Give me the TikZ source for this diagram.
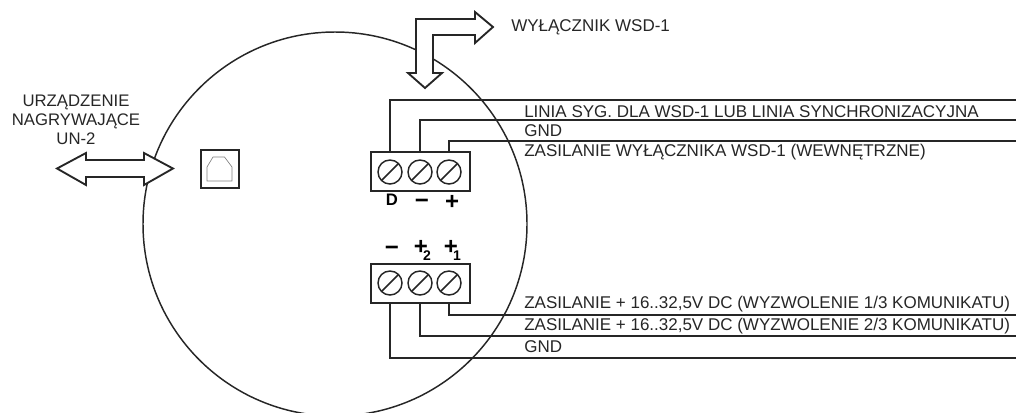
\documentclass[tikz,border=0pt]{standalone}
\usepackage{fontspec}
\setmainfont{Liberation Sans}
\usepackage{tikz}
\usetikzlibrary{calc,positioning}
\newcommand{\pinsub}[1]{\rlap{\kern-3.75pt\raisebox{-4.5pt}[0pt][0pt]{\fontsize{10.5}{12}\selectfont #1}}}

\begin{document}
\begin{tikzpicture}[
	  x=0.75pt,y=-0.75pt,
	  every node/.style={align=center,draw=none},
	  line/.style={line width=1.1pt,draw=black!85},
	  bigarrow/.style={line width=1.4pt,draw=black!85,fill=white,line join=miter},
	  block/.style={draw=black!85,line width=1.1pt,minimum width=74.25pt,minimum height=29.25pt,inner sep=0pt},
	  screw/.style={circle,draw=black!85,line width=1.1pt,minimum size=18pt,inner sep=0pt,
	    path picture={\draw[line width=1.1pt,draw=black!85] (path picture bounding box.south west) -- (path picture bounding box.north east);}},
	  wirelabel/.style={anchor=west,inner sep=0pt,text=black!85,font=\fontsize{12.75}{14}\selectfont},
	  caption/.style={inner sep=0pt,text=black!85,font=\fontsize{12.55}{14.4}\selectfont},
	  pin/.style={inner sep=0pt,font=\fontsize{12.5}{14}\selectfont\bfseries},
	  sign/.style={inner sep=0pt,font=\fontsize{18}{20}\selectfont\bfseries},
	  socket/.style={draw=black!85,line width=1.5pt,minimum size=28.5pt,inner sep=0pt}]

	  \useasboundingbox (0,0) rectangle (1016,412);

	  % Housing and the two wide arrows on top of it
	  \draw[line] (335,224) circle [radius=192];
	  \draw[bigarrow] (57,168.5) -- (86,153) -- (86,160) -- (144,160) -- (144,153) -- (173,168.5)
	    -- (144,185) -- (144,177) -- (86,177) -- (86,185) -- cycle;
	  \draw[bigarrow] (425,88) -- (408,73) -- (416,73) -- (416,19) -- (475,19) -- (475,12) -- (493,27)
	    -- (475,43) -- (475,35) -- (433,35) -- (433,73) -- (442,73) -- cycle;

	  % Socket
	  \node[socket] (sock) at (219.5,169) {};
	  \draw[draw=black!50,line width=0.5pt] ($(sock)+(-12.5,12)$) -- ($(sock)+(-12.5,-2)$) -- ($(sock)+(-6.5,-12)$)
	    -- ($(sock)+(5,-12)$) -- ($(sock)+(12.5,-2)$) -- ($(sock)+(12.5,12)$) -- cycle;

	  % Terminal blocks
	  \node[block] (upblock) at (420.5,171.5) {};
	  \node[screw] (upD) at (390,172) {};
	  \node[screw] (upM) at (420,172) {};
	  \node[screw] (upP) at (449,172) {};
	  \node[block] (loblock) at (420.5,283.5) {};
	  \node[screw] (loM) at (390,283) {};
	  \node[screw] (loB) at (420,283) {};
	  \node[screw] (loA) at (449,283) {};

	  % Pin marks
	  \node[pin] (markD) at (392,200) {D};
	  \node[sign] (markM) at (422,204) {\char"2212};
	  \node[sign] (markP) at (452,202) {+};
	  \node[sign] (markLM) at (392,251) {\char"2212};
	  \node[sign] (markB) at (421,247) {+\pinsub{2}};
	  \node[sign] (markA) at (451,247) {+\pinsub{1}};

	  % Wires
	  \coordinate (endD) at (1016,100);
	  \coordinate (endM) at (1016,120);
	  \coordinate (endP) at (1016,141);
	  \coordinate (endA) at (1016,315);
	  \coordinate (endB) at (1016,336);
	  \coordinate (endG) at (1016,358);
	  \draw[line] (upD |- upblock.north) |- (endD);
	  \draw[line] (upM |- upblock.north) |- (endM);
	  \draw[line] (upP |- upblock.north) |- (endP);
	  \draw[line] (loA |- loblock.south) |- (endA);
	  \draw[line] (loB |- loblock.south) |- (endB);
	  \draw[line] (loM |- loblock.south) |- (endG);

	  % Texts
	  \node[wirelabel] (txtD) at (524,112) {LINIA SYG. DLA WSD-1 LUB LINIA SYNCHRONIZACYJNA};
	  \node[wirelabel] (txtM) at (524,131) {GND};
	  \node[wirelabel] (txtP) at (524,152) {ZASILANIE WYŁĄCZNIKA WSD-1 (WEWNĘTRZNE)};
	  \node[wirelabel] (txtA) at (524,304) {ZASILANIE + 16..32,5V DC (WYZWOLENIE 1/3 KOMUNIKATU)};
	  \node[wirelabel] (txtB) at (524,326) {ZASILANIE + 16..32,5V DC (WYZWOLENIE 2/3 KOMUNIKATU)};
	  \node[wirelabel] (txtG) at (524,347) {GND};
	  \node[wirelabel] (txtW) at (511,27) {WYŁĄCZNIK WSD-1};
	  \node[caption] (txtU) at (76,120) {URZĄDZENIE\\NAGRYWAJĄCE\\UN-2};

\end{tikzpicture}
\end{document}
